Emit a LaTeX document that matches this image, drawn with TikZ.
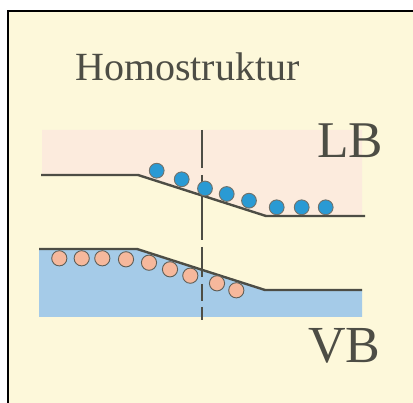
\documentclass[tikz,border=0pt]{standalone}
\usepackage{fontspec}
\setmainfont{Liberation Serif}
\usetikzlibrary{positioning}
\definecolor{cream}{HTML}{FDF8DA}
\definecolor{lbpink}{HTML}{FCEBDD}
\definecolor{vbblue}{HTML}{A5CBE8}
\definecolor{eblue}{HTML}{2A9AD4}
\definecolor{hsalmon}{HTML}{F6B89C}
\definecolor{inkgray}{HTML}{4D4D45}
\tikzset{
  bandline/.style={draw=inkgray, line width=2.4pt},
  electron/.style={fill=eblue, draw=inkgray!80, line width=0.9pt},
  hole/.style={fill=hsalmon, draw=inkgray!90, line width=0.9pt},
  bandlabel/.style={text=inkgray, inner sep=0pt, anchor=base west},
  cutline/.style={draw=inkgray, line width=1.1pt, dash pattern=on 38pt off 7pt on 65pt off 7pt on 30pt off 7pt on 17pt off 6pt on 30pt off 10pt}
}
\begin{document}
\begin{tikzpicture}[x=1pt, y=-1pt]
  \useasboundingbox (0,0) rectangle (413,403);
  \fill[white] (0,0) rectangle (413,403);
  % frame
  \fill[cream] (8,11) rectangle (425,415);
  \draw[black, line width=2.6pt] (8,425) -- (8,11) -- (425,11);
  % conduction band (LB)
  \fill[lbpink] (42,130) -- (362,130) -- (362,216) -- (266,216) -- (138,175) -- (42,175) -- cycle;
  \draw[bandline] (41,175) -- (138,175) -- (266,216) -- (365,216);
  % valence band (VB)
  \fill[vbblue] (39,249) -- (137,249) -- (265,290) -- (362,290) -- (362,317) -- (39,317) -- cycle;
  \draw[bandline] (39,249) -- (137,249) -- (265,290) -- (362,290);
  % junction
  \draw[cutline] (202,130) -- (202,320);
  % electrons
  \foreach \x/\y in {156.7/170.7, 181.7/179.3, 205/188.5, 226.7/194, 249/200.7, 276.7/207.3, 301.7/207.3, 325.7/207.3}
    \draw[electron] (\x,\y) circle (7.4);
  % holes
  \foreach \x/\y in {59.3/258.3, 81.7/258.3, 102.3/258.3, 126/259.3, 149/262.7, 170/269.3, 190.3/275.7, 217/283.3, 236.3/290.3}
    \draw[hole] (\x,\y) circle (7.6);
  % labels
  \node[bandlabel, font=\fontsize{40}{48}\selectfont] (title) at (75,81) {Homostruktur};
  \node[bandlabel, font=\fontsize{51.5}{62}\selectfont] (lb) at (317,158) {LB};
  \node[bandlabel, font=\fontsize{52}{62}\selectfont] (vb) at (308,363) {VB};
\end{tikzpicture}
\end{document}
